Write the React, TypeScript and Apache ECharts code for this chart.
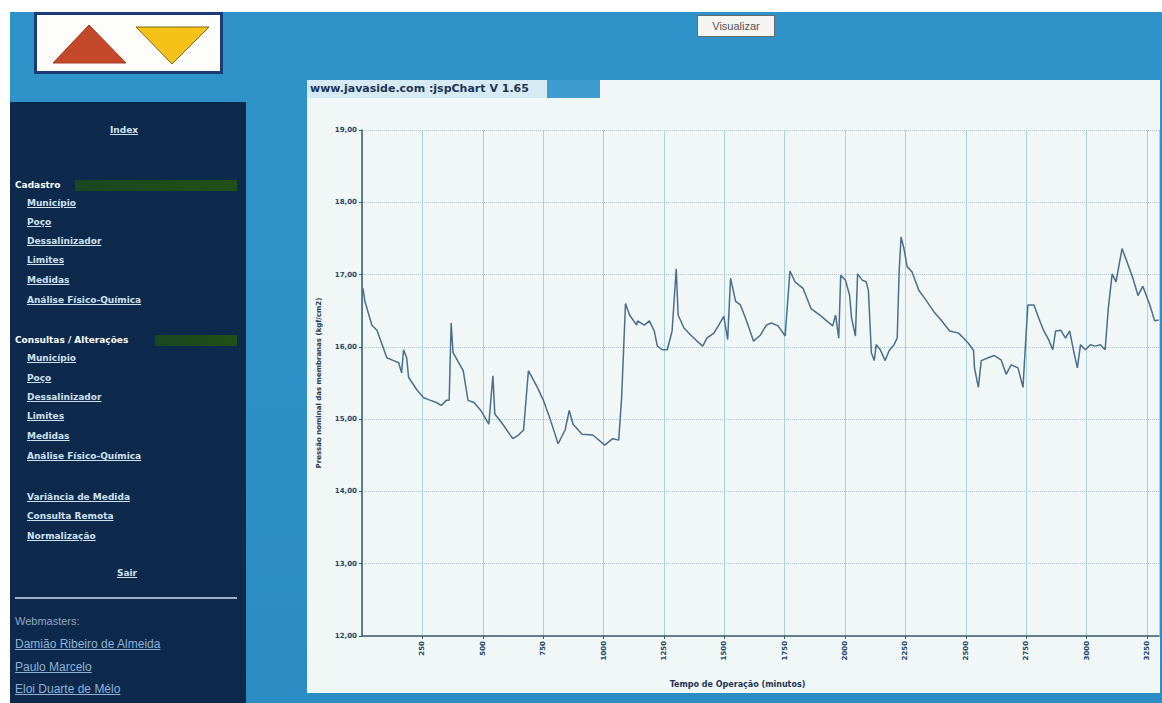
import React, { useEffect, useRef } from "react";
import * as echarts from "echarts";

// Tempo de operação (minutos)
const timeMin = [
  4, 12, 41, 62, 103, 131, 152, 164, 172, 185, 193, 226, 254, 275, 308, 328, 349, 361, 369, 377,
  419, 439, 464, 492, 525, 542, 550, 583, 624, 648, 669, 689, 726, 751, 780, 812, 841, 858, 874, 911,
  956, 1005, 1038, 1063, 1075, 1091, 1108, 1137, 1141, 1169, 1190, 1210, 1223, 1243, 1264, 1284, 1301, 1309, 1333, 1362,
  1387, 1411, 1428, 1457, 1477, 1498, 1514, 1526, 1547, 1567, 1592, 1621, 1649, 1674, 1695, 1723, 1752, 1772, 1793, 1826,
  1859, 1896, 1920, 1949, 1961, 1974, 1982, 2002, 2019, 2027, 2043, 2052, 2072, 2088, 2097, 2109, 2121, 2129, 2146, 2166,
  2183, 2203, 2216, 2224, 2232, 2244, 2257, 2277, 2306, 2330, 2367, 2400, 2433, 2470, 2491, 2511, 2532, 2536, 2552, 2564,
  2593, 2618, 2646, 2667, 2688, 2716, 2737, 2741, 2753, 2757, 2782, 2802, 2823, 2843, 2860, 2872, 2893, 2913, 2930, 2946,
  2962, 2975, 2995, 3016, 3036, 3057, 3077, 3090, 3106, 3122, 3147, 3167, 3192, 3213, 3233, 3262, 3282, 3299,
];

// Pressão nominal das membranas (kgf/cm2)
const pressure = [
  16.81, 16.63, 16.3, 16.23, 15.85, 15.81, 15.78, 15.64, 15.96, 15.85, 15.58, 15.41, 15.3, 15.27, 15.23, 15.19, 15.26, 15.26, 16.33, 15.92,
  15.67, 15.26, 15.23, 15.12, 14.93, 15.6, 15.07, 14.93, 14.73, 14.78, 14.85, 15.67, 15.44, 15.26, 14.99, 14.66, 14.85, 15.12, 14.93, 14.79,
  14.78, 14.64, 14.73, 14.71, 15.3, 16.6, 16.44, 16.3, 16.36, 16.3, 16.36, 16.22, 16.01, 15.96, 15.96, 16.22, 17.08, 16.44, 16.26, 16.16,
  16.08, 16.01, 16.12, 16.19, 16.3, 16.42, 16.1, 16.95, 16.63, 16.58, 16.36, 16.08, 16.16, 16.3, 16.33, 16.29, 16.15, 17.05, 16.9, 16.81,
  16.53, 16.44, 16.37, 16.29, 16.44, 16.12, 16.99, 16.92, 16.71, 16.4, 16.15, 17.01, 16.92, 16.9, 16.77, 15.92, 15.81, 16.03, 15.96, 15.81,
  15.95, 16.03, 16.12, 17.04, 17.52, 17.36, 17.11, 17.04, 16.78, 16.67, 16.49, 16.36, 16.22, 16.19, 16.12, 16.05, 15.95, 15.71, 15.44, 15.81,
  15.85, 15.88, 15.82, 15.62, 15.75, 15.71, 15.44, 15.68, 16.36, 16.58, 16.58, 16.4, 16.22, 16.1, 15.96, 16.22, 16.23, 16.12, 16.22, 15.95,
  15.71, 16.03, 15.96, 16.03, 16.01, 16.03, 15.96, 16.53, 17.01, 16.9, 17.36, 17.18, 16.95, 16.71, 16.84, 16.58, 16.36, 16.37,
];

const chartTitle = "www.javaside.com :jspChart V 1.65";
const xTitle = "Tempo de Operação (minutos)";
const yTitle = "Pressão nominal das membranas (kgf/cm2)";

const menuCadastro = ["Município", "Poço", "Dessalinizador", "Limites", "Medidas", "Análise Físico-Química"];
const menuConsultas = ["Município", "Poço", "Dessalinizador", "Limites", "Medidas", "Análise Físico-Química"];
const menuExtra = ["Variância de Medida", "Consulta Remota", "Normalização"];
const webmasters = ["Damião Ribeiro de Almeida", "Paulo Marcelo", "Eloi Duarte de Mélo"];

const linkStyle: React.CSSProperties = {
  position: "absolute",
  left: 27,
  fontFamily: "'DejaVu Sans', Verdana, sans-serif",
  fontSize: 9,
  fontWeight: "bold",
  color: "#cfe0f0",
  textDecoration: "underline",
  lineHeight: "12px",
  whiteSpace: "nowrap",
};

function Chart() {
  const ref = useRef<HTMLDivElement>(null);
  useEffect(() => {
    if (!ref.current) return;
    const chart = echarts.init(ref.current, undefined, { renderer: "svg" });
    const data = timeMin.map((t, i) => [t, pressure[i]]);
    chart.setOption({
      animation: false,
      backgroundColor: "#f1f6f7",
      graphic: [
        { type: "rect", left: 0, top: 0, shape: { width: 293, height: 18 }, style: { fill: "#d6eaf3" } },
        { type: "rect", left: 240, top: 0, shape: { width: 53, height: 18 }, style: { fill: "#3f9cd1" } },
        {
          type: "text",
          left: 3,
          top: 3,
          style: {
            text: chartTitle,
            fill: "#1d3557",
            font: "bold 11px 'DejaVu Sans', sans-serif",
          },
        },
      ],
      grid: { left: 46, top: 50, right: 1, bottom: 52 },
      xAxis: {
        type: "value",
        min: 0,
        max: 3300,
        interval: 250,
        name: xTitle,
        nameLocation: "middle",
        nameGap: 44,
        nameTextStyle: {
          color: "#1d3557",
          fontSize: 8,
          fontWeight: "bold",
          fontFamily: "'DejaVu Sans', sans-serif",
          padding: [0, 46, 0, 0],
        },
        axisLine: { lineStyle: { color: "#3d5a6c", width: 1.5 } },
        axisTick: { show: true, length: 3, lineStyle: { color: "#3d5a6c" } },
        axisLabel: {
          rotate: 90,
          showMinLabel: false,
          showMaxLabel: false,
          margin: 5,
          fontSize: 7,
          fontWeight: "bold",
          color: "#23476b",
          fontFamily: "'DejaVu Sans', sans-serif",
          formatter: (v: number) => String(v),
        },
        splitLine: { show: true, lineStyle: { color: "#a9d3e4", width: 1 } },
      },
      yAxis: {
        type: "value",
        min: 12,
        max: 19,
        interval: 1,
        name: yTitle,
        nameLocation: "middle",
        nameGap: 40,
        nameTextStyle: { color: "#1d3557", fontSize: 7, fontWeight: "bold", fontFamily: "'DejaVu Sans', sans-serif" },
        axisLine: { show: true, lineStyle: { color: "#3d5a6c", width: 1.5 } },
        axisTick: { show: true, length: 3, lineStyle: { color: "#3d5a6c" } },
        axisLabel: {
          margin: 5,
          fontSize: 7,
          fontWeight: "bold",
          color: "#23476b",
          fontFamily: "'DejaVu Sans', sans-serif",
          formatter: (v: number) => v.toFixed(2).replace(".", ","),
        },
        splitLine: { show: true, lineStyle: { color: "#b4c6ce", type: "dotted", width: 1 } },
      },
      series: [
        {
          type: "line",
          data,
          symbol: "none",
          lineStyle: { color: "#4a6f8c", width: 1.5 },
        },
      ],
    });
    return () => chart.dispose();
  }, []);
  return <div ref={ref} style={{ position: "absolute", left: 307, top: 80, width: 853, height: 613 }} />;
}

export default function App() {
  return (
    <div
      style={{
        position: "fixed",
        left: 0,
        top: 0,
        width: 1162,
        height: 703,
        overflow: "hidden",
        background: "#ffffff",
      }}
    >
      {/* blue page background */}
      <div
        style={{
          position: "absolute",
          left: 10,
          top: 12,
          width: 1152,
          height: 691,
          background: "linear-gradient(180deg, #2f93c9 0%, #2b8dc4 100%)",
        }}
      />
      {/* logo */}
      <div
        style={{
          position: "absolute",
          left: 34,
          top: 12,
          width: 183,
          height: 56,
          background: "#fdfdfb",
          border: "3px solid #1b3b78",
        }}
      >
        <svg width={183} height={56} style={{ position: "absolute", left: 0, top: 0 }}>
          <polygon points="16,48 52,10 89,48" fill="#c4482a" stroke="#a53a22" strokeWidth={1} />
          <polygon points="99,12 172,12 135,49" fill="#f6c21a" stroke="#7a6a10" strokeWidth={1} />
        </svg>
      </div>
      {/* Visualizar button */}
      <div
        style={{
          position: "absolute",
          left: 697,
          top: 15,
          width: 76,
          height: 20,
          background: "#f4f4f2",
          border: "1px solid #6a6a6a",
          fontFamily: "'Liberation Sans', Arial, sans-serif",
          fontSize: 11,
          color: "#555",
          textAlign: "center",
          lineHeight: "20px",
        }}
      >
        Visualizar
      </div>
      {/* sidebar */}
      <div style={{ position: "absolute", left: 10, top: 102, width: 236, height: 601, background: "#0d2a4d" }} />
      <div style={{ ...linkStyle, left: 0, width: 248, textAlign: "center", top: 124 }}>Index</div>
      <div style={{ position: "absolute", left: 75, top: 180, width: 162, height: 11, background: "linear-gradient(90deg, #1a4720, #234f17)" }} />
      <div style={{ ...linkStyle, left: 15, top: 179, color: "#ffffff", textDecoration: "none" }}>Cadastro</div>
      {menuCadastro.map((m, i) => (
        <div key={"c" + i} style={{ ...linkStyle, top: [197, 216, 235, 254, 274, 294][i] }}>
          {m}
        </div>
      ))}
      <div style={{ position: "absolute", left: 155, top: 335, width: 82, height: 11, background: "linear-gradient(90deg, #1a4720, #234f17)" }} />
      <div style={{ ...linkStyle, left: 15, top: 334, color: "#ffffff", textDecoration: "none" }}>Consultas / Alterações</div>
      {menuConsultas.map((m, i) => (
        <div key={"a" + i} style={{ ...linkStyle, top: [352, 372, 391, 410, 430, 450][i] }}>
          {m}
        </div>
      ))}
      {menuExtra.map((m, i) => (
        <div key={"e" + i} style={{ ...linkStyle, top: [491, 510, 530][i] }}>
          {m}
        </div>
      ))}
      <div style={{ ...linkStyle, left: 0, width: 254, textAlign: "center", top: 567 }}>Sair</div>
      <div style={{ position: "absolute", left: 15, top: 597, width: 222, height: 2, background: "#9fb0c4" }} />
      <div
        style={{
          position: "absolute",
          left: 15,
          top: 615,
          fontFamily: "'Liberation Sans', Arial, sans-serif",
          fontSize: 11,
          color: "#8ea6c2",
        }}
      >
        Webmasters:
      </div>
      {webmasters.map((w, i) => (
        <div
          key={"w" + i}
          style={{
            position: "absolute",
            left: 15,
            top: [637, 660, 682][i],
            fontFamily: "'Liberation Sans', Arial, sans-serif",
            fontSize: 12,
            color: "#8fb2d6",
            textDecoration: "underline",
            whiteSpace: "nowrap",
          }}
        >
          {w}
        </div>
      ))}
      {/* chart panel */}
      <Chart />
    </div>
  );
}
